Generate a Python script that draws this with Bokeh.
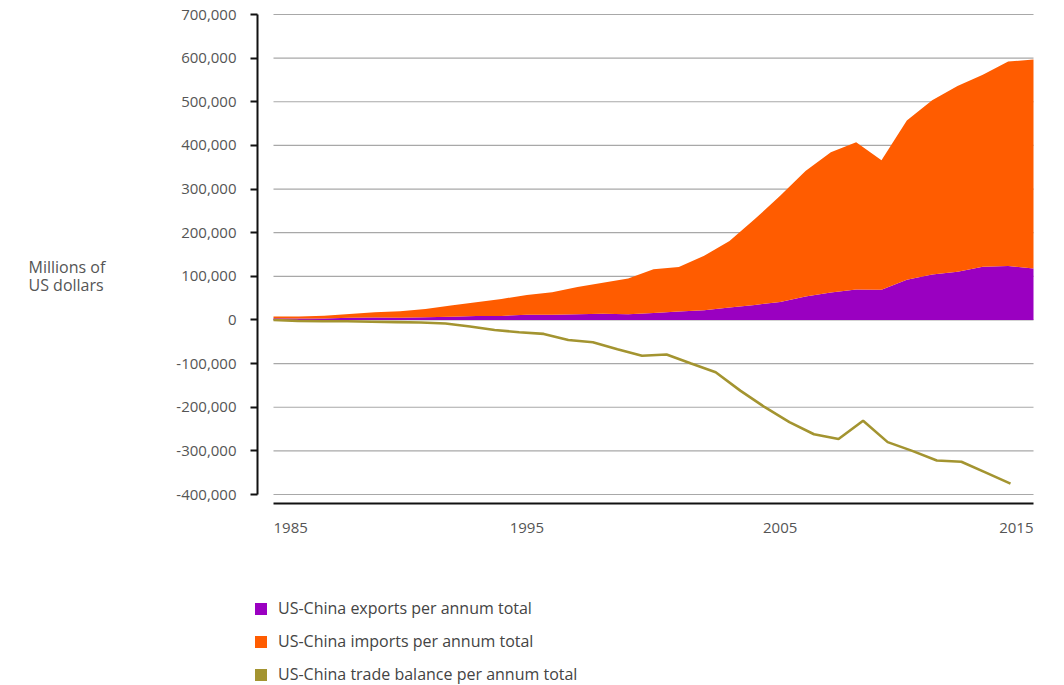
from bokeh.plotting import figure
from bokeh.models import (ColumnDataSource, Range1d, FixedTicker, NumeralTickFormatter,
                          Label, Legend, LegendItem)
from bokeh.embed import file_html
from bokeh.resources import INLINE

# ---------------- data (millions of US dollars) ----------------
years = list(range(1985, 2016))
exports = [3900, 3100, 3500, 5000, 5800, 4800, 6300, 7400, 8800, 9300,
           11800, 12000, 12900, 14200, 13100, 16200, 19200, 22100, 28400, 34400,
           41200, 53700, 62900, 69700, 69500, 91900, 104100, 110500, 121700, 123700,
           117900]
imports = [3900, 4800, 6300, 8500, 12000, 15200, 19000, 25700, 31500, 38800,
           45500, 51500, 62600, 71200, 81800, 100000, 102300, 125200, 152400, 196700,
           243500, 287800, 321400, 337800, 296400, 365000, 399400, 425600, 440400, 468500,
           479200]
balance = [0, -2000, -3000, -3000, -4000, -5000, -6000, -8000, -15000, -23000,
           -28000, -32000, -46000, -51000, -67000, -82000, -79000, -100000, -120000, -162000,
           -200000, -234000, -262000, -273000, -231000, -280000, -300000, -322000, -325000, -350000,
           -375000]

y_ticks = [-400000, -300000, -200000, -100000, 0, 100000, 200000, 300000, 400000, 500000, 600000, 700000]
x_tick_years = [1985, 1995, 2005, 2015]
x_tick_labels = ["1985", "1995", "2005", "2015"]
x_tick_align = ["left", "center", "center", "right"]
series_labels = ["US-China exports per annum total",
                 "US-China imports per annum total",
                 "US-China trade balance per annum total"]
y_title = "Millions of\nUS dollars"

PURPLE = "#9A00C1"
ORANGE = "#FF5C00"
OLIVE = "#A39430"
TEXT = "#555555"
FONT = "Open Sans"

# ---------------- layout (pixels, canvas = whole frame) ----------------
W, H = 1064, 685
X0_PX, X1_PX = 273, 1033      # first / last year
XB1_PX = 1010                 # balance line's last year
YAX_PX = 257                  # y axis line
YT_PX, YB_PX = 14, 494        # top / bottom tick
XAX_PX = 503                  # x axis line

ppy = (X1_PX - X0_PX) / (years[-1] - years[0])
x_start = years[0] - X0_PX / ppy
x_end = years[-1] + (W - X1_PX) / ppy
ppy_b = (XB1_PX - X0_PX) / (years[-1] - years[0])
xb_start = years[0] - X0_PX / ppy_b
xb_end = years[-1] + (W - XB1_PX) / ppy_b
ppv = (YB_PX - YT_PX) / (y_ticks[-1] - y_ticks[0])
y_top = y_ticks[-1] + YT_PX / ppv
y_bot = y_ticks[0] - (H - YB_PX) / ppv
yaxis_x = years[0] - (X0_PX - YAX_PX) / ppy
xaxis_y = y_ticks[0] - (XAX_PX - YB_PX) / ppv

p = figure(width=W, height=H,
           x_range=Range1d(x_start, x_end), y_range=Range1d(y_bot, y_top),
           output_backend="svg", toolbar_location=None,
           min_border_left=0, min_border_right=0, min_border_top=0, min_border_bottom=0)
p.extra_x_ranges = {"balance": Range1d(xb_start, xb_end)}
p.outline_line_color = None
p.xgrid.visible = False
p.ygrid.visible = False
p.background_fill_color = "white"
p.border_fill_color = "white"

# gridlines
p.segment(x0=[years[0]] * len(y_ticks), x1=[years[-1]] * len(y_ticks), y0=y_ticks, y1=y_ticks,
          line_color="#a8a8a8", line_width=1.2)

src = ColumnDataSource(dict(year=years, exports=exports, imports=imports))
areas = p.varea_stack(["exports", "imports"], x="year", source=src, color=[PURPLE, ORANGE])

bal = p.line(x=years, y=balance, line_color=OLIVE, line_width=2.6, x_range_name="balance")
# zero-height area: only provides the square legend swatch for the balance series
swatch = p.varea(x=years, y1=balance, y2=balance, fill_color=OLIVE, x_range_name="balance")

# axes
ya = p.yaxis[0]
ya.fixed_location = yaxis_x
ya.ticker = FixedTicker(ticks=y_ticks)
ya.formatter = NumeralTickFormatter(format="0,0")
ya.bounds = (y_ticks[0], y_ticks[-1])
ya.axis_line_width = 2
ya.axis_line_color = "#111111"
ya.major_tick_in = 0
ya.major_tick_out = 7
ya.major_tick_line_width = 2
ya.major_tick_line_color = "#111111"
ya.minor_tick_line_color = None
ya.major_label_standoff = 14
ya.major_label_text_font = FONT
ya.major_label_text_font_size = "15px"
ya.major_label_text_color = TEXT

xa = p.xaxis[0]
xa.fixed_location = xaxis_y
xa.ticker = FixedTicker(ticks=[])
xa.bounds = (years[0], years[-1])
xa.axis_line_width = 2
xa.axis_line_color = "#111111"
xa.major_tick_line_color = None
xa.minor_tick_line_color = None

for yr, txt, al in zip(x_tick_years, x_tick_labels, x_tick_align):
    p.add_layout(Label(x=yr, y=xaxis_y, y_offset=-24, text=txt, text_align=al,
                       text_baseline="middle", text_font=FONT, text_font_size="15px",
                       text_color=TEXT))

p.add_layout(Label(x=yaxis_x, x_offset=-229, y=100000, text=y_title, text_align="left",
                   text_baseline="middle", text_font=FONT, text_font_size="16px",
                   text_color=TEXT, text_line_height=0.83))

legend = Legend(items=[LegendItem(label=series_labels[0], renderers=[areas[0]]),
                       LegendItem(label=series_labels[1], renderers=[areas[1]]),
                       LegendItem(label=series_labels[2], renderers=[swatch])],
                location=(253, 0), orientation="vertical",
                glyph_width=15, glyph_height=15, label_height=15, label_standoff=10,
                spacing=11, padding=0, margin=0, border_line_color=None,
                background_fill_alpha=0, label_text_font=FONT,
                label_text_font_size="16px", label_text_color="#444444")
p.add_layout(legend)

open("out.html", "w").write(file_html(p, INLINE))
